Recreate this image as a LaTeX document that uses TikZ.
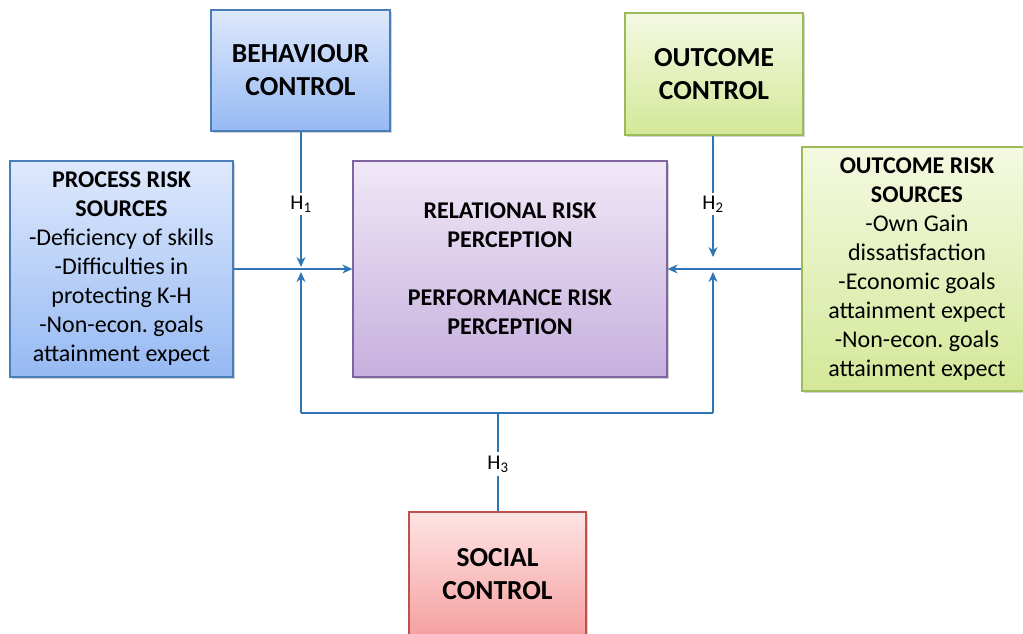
\documentclass[tikz,border=0pt]{standalone}
\usepackage{fontspec}
\setmainfont{Carlito}
\usetikzlibrary{arrows.meta,shadows}
\definecolor{linkblue}{RGB}{46,117,182}
\definecolor{bluetop}{RGB}{222,233,252}
\definecolor{bluebot}{RGB}{150,185,243}
\definecolor{blueline}{RGB}{74,126,187}
\definecolor{greentop}{RGB}{244,249,226}
\definecolor{greenbot}{RGB}{212,232,152}
\definecolor{greenline}{RGB}{155,187,89}
\definecolor{lilatop}{RGB}{240,232,247}
\definecolor{lilabot}{RGB}{198,176,222}
\definecolor{lilaline}{RGB}{128,100,162}
\definecolor{redtop}{RGB}{255,228,228}
\definecolor{redbot}{RGB}{245,160,160}
\definecolor{redline}{RGB}{192,80,77}
\begin{document}
\begin{tikzpicture}[x=1pt,y=-1pt,>={Stealth[length=10pt,width=9pt]},
    box/.style={line width=1.3pt,align=center,inner sep=0pt,
      drop shadow={shadow xshift=2pt,shadow yshift=-2pt,opacity=0.35}},
    bluebox/.style={box,draw=blueline,top color=bluetop,bottom color=bluebot},
    greenbox/.style={box,draw=greenline,top color=greentop,bottom color=greenbot},
    lilabox/.style={box,draw=lilaline,top color=lilatop,bottom color=lilabot},
    redbox/.style={box,draw=redline,top color=redtop,bottom color=redbot},
    big/.style={font=\fontsize{27.5}{33}\selectfont\bfseries},
    small/.style={font=\fontsize{24}{29}\selectfont},
    link/.style={draw=linkblue,line width=1.3pt},
    hyp/.style={fill=white,inner sep=3pt,font=\fontsize{21}{22}\selectfont}]
  \useasboundingbox (0,0) rectangle (1023,633);
  \clip (0,0) rectangle (1023,633);
  % control boxes
  \node (Bc) at (300.5,70.5) [bluebox,big,minimum width=179pt,minimum height=121pt] {BEHAVIOUR\\CONTROL};
  \node (Oc) at (714,74) [greenbox,big,minimum width=178pt,minimum height=122pt] {OUTCOME\\CONTROL};
  \node (Sc) at (497.5,574) [redbox,big,minimum width=177pt,minimum height=124pt] {SOCIAL\\CONTROL};
  % risk boxes
  \node (Pr) at (121.5,269) [bluebox,small,minimum width=223pt,minimum height=216pt] {\textbf{PROCESS RISK}\\\textbf{SOURCES}\\-Deficiency of skills\\-Difficulties in\\protecting K-H\\-Non-econ.\ goals\\attainment expect};
  \node (Rr) at (510,269) [lilabox,small,minimum width=314pt,minimum height=216pt] {\textbf{RELATIONAL RISK}\\\textbf{PERCEPTION}\\[29pt]\textbf{PERFORMANCE RISK}\\\textbf{PERCEPTION}};
  \node (Or) at (917,269) [greenbox,small,minimum width=230pt,minimum height=244pt] {\textbf{OUTCOME RISK}\\\textbf{SOURCES}\\-Own Gain\\dissatisfaction\\-Economic goals\\attainment expect\\-Non-econ.\ goals\\attainment expect};
  % junctions
  \coordinate (J1) at (301,269);
  \coordinate (J2) at (713,269);
  \coordinate (L1) at (301,413);
  \coordinate (L2) at (713,413);
  \coordinate (L3) at (498,413);
  % hypotheses
  \node (H1) at (301,204) [hyp] {H\textsubscript{1}};
  \node (H2) at (713,204) [hyp] {H\textsubscript{2}};
  \node (H3) at (498,464) [hyp] {H\textsubscript{3}};
  \draw[link] (Bc.south -| J1) -- (H1);
  \draw[link,->,shorten >=2pt] (H1) -- (J1);
  \draw[link] (Oc.south -| J2) -- (H2);
  \draw[link,->,shorten >=12pt] (H2) -- (J2);
  \draw[link,->] (Pr.east |- J1) -- (Rr.west |- J1);
  \draw[link,->] (Or.west |- J2) -- (Rr.east |- J2);
  \draw[link,->,shorten >=3pt] (L1) -- (J1);
  \draw[link,->,shorten >=3pt] (L2) -- (J2);
  \draw[link] (L1) -- (L2);
  \draw[link] (L3) -- (H3);
  \draw[link] (H3) -- (Sc.north -| L3);
\end{tikzpicture}
\end{document}
